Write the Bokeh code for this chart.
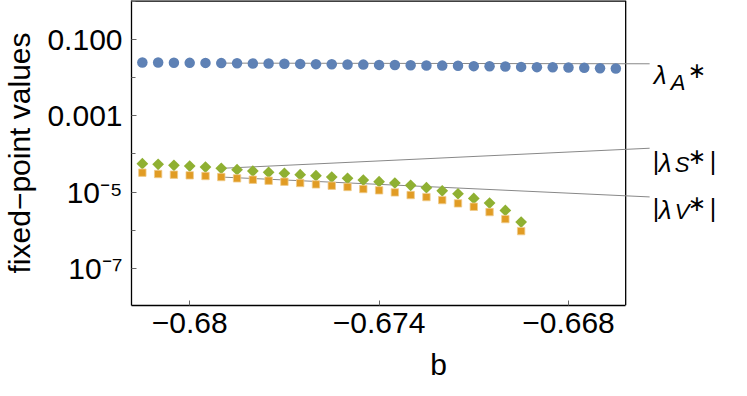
from bokeh.plotting import figure
from bokeh.models import Range1d, FixedTicker
from bokeh.core.properties import value
from bokeh.embed import file_html
from bokeh.resources import INLINE

# ---------------- data ----------------
b_vals = [-0.6815, -0.6810, -0.6805, -0.6800, -0.6795, -0.6790, -0.6785, -0.6780,
          -0.6775, -0.6770, -0.6765, -0.6760, -0.6755, -0.6750, -0.6745, -0.6740,
          -0.6735, -0.6730, -0.6725, -0.6720, -0.6715, -0.6710, -0.6705, -0.6700,
          -0.6695, -0.6690, -0.6685, -0.6680, -0.6675, -0.6670, -0.6665]
lam_A = [0.0253, 0.0252, 0.0249, 0.0248, 0.0247, 0.0244, 0.0243, 0.0239, 0.0238, 0.0234,
         0.0233, 0.0229, 0.0228, 0.0224, 0.0223, 0.0219, 0.0218, 0.0215, 0.0211, 0.0210,
         0.0207, 0.0203, 0.0202, 0.0198, 0.0194, 0.0191, 0.0190, 0.0187, 0.0183, 0.0179, 0.0176]
b_short = b_vals[:25]
lam_S = [5.56e-5, 5.35e-5, 5.04e-5, 4.83e-5, 4.55e-5, 4.20e-5, 3.87e-5, 3.57e-5, 3.30e-5,
         3.10e-5, 2.86e-5, 2.69e-5, 2.48e-5, 2.29e-5, 2.07e-5, 1.87e-5, 1.73e-5, 1.50e-5,
         1.30e-5, 1.08e-5, 9.03e-6, 6.81e-6, 5.14e-6, 3.30e-6, 1.63e-6]
lam_V = [3.23e-5, 2.98e-5, 2.86e-5, 2.75e-5, 2.64e-5, 2.48e-5, 2.29e-5, 2.11e-5, 1.99e-5,
         1.87e-5, 1.73e-5, 1.59e-5, 1.47e-5, 1.36e-5, 1.20e-5, 1.11e-5, 9.79e-6, 8.34e-6,
         7.38e-6, 6.15e-6, 5.04e-6, 4.11e-6, 2.98e-6, 1.95e-6, 9.42e-7]

x_ticks = [-0.68, -0.674, -0.668]
x_tick_labels = ["\u22120.68", "\u22120.674", "\u22120.668"]
y_ticks = [1e-7, 1e-5, 1e-3, 1e-1]
y_tick_labels = ["10\u207b\u2077", "10\u207b\u2075", "0.001", "0.100"]
y_minor_ticks = [1e-8, 1e-6, 1e-4, 1e-2, 1.0]

# ---------------- layout constants ----------------
X_START, X_END = -0.681844, -0.662392     # x range incl. callout margin
X_FRAME_RIGHT = -0.666188                 # right edge of the data frame
Y_START, Y_END = 1.047e-8, 1.077
LEADER_X = -0.665429                      # x where callout leaders end
LEADER_IDX = 5                            # callouts attach at this point
leader_end_y = {"A": 0.02342, "S": 1.418e-4, "V": 7.45e-6}

BLUE, ORANGE, GREEN = "#5E81B5", "#E19C24", "#8FB032"
FONT = "Liberation Sans"
FS = "30px"

p = figure(width=745, height=394, output_backend="svg", toolbar_location=None,
           y_axis_type="log",
           x_range=Range1d(X_START, X_END), y_range=Range1d(Y_START, Y_END),
           min_border_left=130, min_border_right=0, min_border_top=0, min_border_bottom=89)
p.outline_line_color = None
p.grid.visible = False
p.background_fill_color = "white"
p.border_fill_color = "white"

# axes
for ax in (p.xaxis[0], p.yaxis[0]):
    ax.axis_line_color = "black"
    ax.axis_line_width = 1.3
    ax.major_tick_in = 5
    ax.major_tick_out = 0
    ax.major_tick_line_color = "#666666"
    ax.major_label_text_font = FONT
    ax.major_label_text_font_size = FS
    ax.major_label_text_color = "black"
    ax.axis_label_text_font = FONT
    ax.axis_label_text_font_size = FS
    ax.axis_label_text_font_style = "normal"
    ax.axis_label_text_color = "black"

p.xaxis.ticker = FixedTicker(ticks=x_ticks)
p.xaxis.major_label_overrides = dict(zip(x_ticks, x_tick_labels))
p.xaxis.minor_tick_line_color = None
p.xaxis.bounds = (X_START, X_FRAME_RIGHT)
p.xaxis.axis_label = "b"
p.xaxis.major_label_standoff = 7
p.xaxis.axis_label_standoff = 12

p.yaxis.ticker = FixedTicker(ticks=y_ticks, minor_ticks=y_minor_ticks)
p.yaxis.major_label_overrides = dict(zip(y_ticks, y_tick_labels))
p.yaxis.minor_tick_in = 4
p.yaxis.minor_tick_out = 0
p.yaxis.minor_tick_line_color = "#666666"
p.yaxis.axis_label = "fixed\u2212point values"
p.yaxis.major_label_standoff = 9
p.yaxis.axis_label_standoff = 8

# remaining frame edges
p.segment(x0=[X_START], y0=[Y_END], x1=[X_FRAME_RIGHT], y1=[Y_END], line_color="black", line_width=2.6)
p.segment(x0=[X_FRAME_RIGHT], y0=[Y_START], x1=[X_FRAME_RIGHT], y1=[Y_END], line_color="black", line_width=1.3)

# leader lines
for key, series in (("A", lam_A), ("S", lam_S), ("V", lam_V)):
    p.line(x=[b_vals[LEADER_IDX], LEADER_X], y=[series[LEADER_IDX], leader_end_y[key]],
           line_color="#888888", line_width=1)

# markers
p.scatter(b_vals, lam_A, marker="circle", size=10.5, fill_color=BLUE, line_color=None)
p.scatter(b_short, lam_S, marker="square", size=8.3, angle=0.7853981634,
          fill_color=GREEN, line_color=None)
p.scatter(b_short, lam_V, marker="square", size=7.4, fill_color=ORANGE,
          line_color="#F0CC8C", line_width=0.8)

# callout label pieces
def piece(key, txt, dx, dy, size, style="normal", baseline="alphabetic", font=FONT):
    p.text(x=[LEADER_X], y=[leader_end_y[key]], text=[txt], x_offset=dx, y_offset=dy,
           text_font=value(font), text_font_size=size, text_font_style=style,
           text_baseline=baseline, text_align="left", text_color="black")

piece("A", "\u03bb", 4, 11.7, "26px", "italic")
piece("A", "A", 21, 18.7, "22px", "italic")
piece("A", "\u2217", 38, 6.7, "22px", baseline="middle", font="DejaVu Sans")

for key, shift in (("S", 0.0), ("V", -1.7)):
    piece(key, "|", 3, 12.7 + shift, "25px")
    piece(key, "\u03bb", 9, 14.4 + shift, "26px", "italic")
    piece(key, key, 25, 16.5 + shift, "22px", "italic")
    piece(key, "\u2217", 38, 8.7 + shift, "22px", baseline="middle", font="DejaVu Sans")
    piece(key, "|", 60, 12.7 + shift, "25px")

open("out.html", "w").write(file_html(p, INLINE))
